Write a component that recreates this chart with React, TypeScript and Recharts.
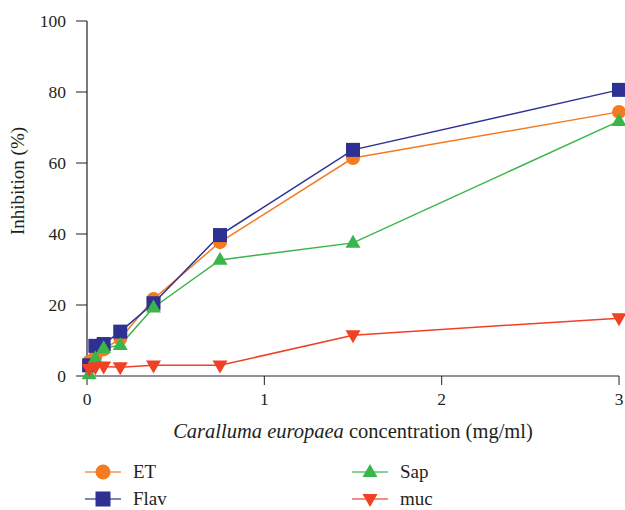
import React from 'react';
import { LineChart, Line, XAxis, YAxis, Legend, Label } from 'recharts';

const concentrations = [0.012, 0.047, 0.094, 0.1875, 0.375, 0.75, 1.5, 3];
const etValues = [4, 5.5, 7.5, 10.5, 21.7, 37.7, 61.4, 74.4];
const flavValues = [3, 8.5, 9, 12.5, 20.5, 39.7, 63.7, 80.6];
const sapValues = [0.5, 5, 7.8, 8.7, 19.3, 32.7, 37.5, 71.8];
const mucValues = [2, 2.5, 2.7, 2.5, 3, 3, 11.5, 16.3];
const xTicks = [0, 1, 2, 3];
const yTicks = [0, 20, 40, 60, 80, 100];

const data = concentrations.map((x, i) => ({
  x,
  ET: etValues[i],
  Flav: flavValues[i],
  Sap: sapValues[i],
  muc: mucValues[i],
}));

const COLORS = {
  ET: '#F47B20',
  Flav: '#2E3192',
  Sap: '#39B54A',
  muc: '#EF4123',
};

const FONT = 'Liberation Serif, Tinos, DejaVu Serif, serif';
const TEXT = '#231F20';

type ShapeKind = 'circle' | 'square' | 'up' | 'down';

const Marker = ({ kind, cx, cy, color, s }: { kind: ShapeKind; cx: number; cy: number; color: string; s: number }) => {
  if (kind === 'circle') return <circle cx={cx} cy={cy} r={s / 2} fill={color} />;
  if (kind === 'square') return <rect x={cx - s / 2} y={cy - s / 2} width={s} height={s} fill={color} />;
  const h = s * 0.87;
  if (kind === 'up')
    return <polygon points={`${cx},${cy - h * 0.62} ${cx - s / 2},${cy + h * 0.38} ${cx + s / 2},${cy + h * 0.38}`} fill={color} />;
  return <polygon points={`${cx},${cy + h * 0.62} ${cx - s / 2},${cy - h * 0.38} ${cx + s / 2},${cy - h * 0.38}`} fill={color} />;
};

const makeDot = (kind: ShapeKind, color: string, s: number) => (p: any) => {
  if (p.cx == null || p.cy == null) return <g key={p.key} />;
  return (
    <g key={p.key}>
      <Marker kind={kind} cx={p.cx} cy={p.cy} color={color} s={s} />
    </g>
  );
};

const legendItems: { name: keyof typeof COLORS; kind: ShapeKind; left: number; top: number }[] = [
  { name: 'ET', kind: 'circle', left: 85, top: 22 },
  { name: 'Flav', kind: 'square', left: 85, top: 49 },
  { name: 'Sap', kind: 'up', left: 352, top: 22 },
  { name: 'muc', kind: 'down', left: 352, top: 49 },
];

const renderLegend = () => (
  <div style={{ position: 'relative', width: 625, height: 60 }}>
    {legendItems.map((it) => (
      <div key={it.name} style={{ position: 'absolute', left: it.left, top: it.top - 11, height: 22, display: 'flex', alignItems: 'center' }}>
        <svg width={36} height={22} style={{ display: 'block' }}>
          <line x1={0} y1={11} x2={36} y2={11} stroke={COLORS[it.name]} strokeWidth={1.5} strokeOpacity={0.8} />
          <Marker kind={it.kind} cx={18} cy={11} color={COLORS[it.name]} s={15} />
        </svg>
        <span style={{ marginLeft: 12, fontFamily: FONT, fontSize: 19, color: TEXT, lineHeight: '22px' }}>{it.name}</span>
      </div>
    ))}
  </div>
);

const XLabel = (props: any) => {
  const vb = props.viewBox || {};
  const cx = vb.x + vb.width / 2;
  return (
    <text x={cx} y={438} textAnchor="middle" style={{ fontFamily: FONT }} fontSize={20.5} fill={TEXT}>
      <tspan fontStyle="italic">Caralluma europaea</tspan>
      <tspan> concentration (mg/ml)</tspan>
    </text>
  );
};

const YLabel = () => (
  <text x={24} y={181} transform="rotate(-90 24 181)" textAnchor="middle" style={{ fontFamily: FONT }} fontSize={19} fill={TEXT}>
    Inhibition (%)
  </text>
);

const tickStyle = { fontFamily: FONT, fontSize: 17.5, fill: TEXT, style: { fontFamily: FONT } };

export default function App() {
  return (
    <div style={{ position: 'absolute', left: 0, top: 0, width: 625, height: 510, background: '#fff', fontFamily: FONT }}>
      <LineChart width={625} height={510} data={data} margin={{ top: 21, right: 6, left: 0, bottom: 0 }} style={{ fontFamily: FONT }}>
        <XAxis
          dataKey="x"
          type="number"
          domain={[0, 3]}
          ticks={xTicks}
          height={74}
          tickSize={9}
          tickMargin={8}
          axisLine={{ stroke: '#6D6E71', strokeWidth: 1.5 }}
          tickLine={{ stroke: '#231F20', strokeWidth: 1 }}
          tick={tickStyle}
        >
          <Label content={<XLabel />} />
        </XAxis>
        <YAxis
          type="number"
          domain={[0, 100]}
          ticks={yTicks}
          width={87}
          tickSize={11}
          tickMargin={10}
          axisLine={{ stroke: '#231F20', strokeWidth: 1.2 }}
          tickLine={{ stroke: '#231F20', strokeWidth: 1 }}
          tick={tickStyle}
        >
          <Label content={<YLabel />} />
        </YAxis>
        <Legend
          verticalAlign="bottom"
          height={60}
          content={renderLegend}
          wrapperStyle={{ left: 0, width: 625, height: 60 }}
        />
        <Line dataKey="ET" stroke={COLORS.ET} strokeWidth={1.5} isAnimationActive={false} dot={makeDot('circle', COLORS.ET, 14)} activeDot={false} />
        <Line dataKey="Flav" stroke={COLORS.Flav} strokeWidth={1.5} isAnimationActive={false} dot={makeDot('square', COLORS.Flav, 14)} activeDot={false} />
        <Line dataKey="Sap" stroke={COLORS.Sap} strokeWidth={1.5} isAnimationActive={false} dot={makeDot('up', COLORS.Sap, 15)} activeDot={false} />
        <Line dataKey="muc" stroke={COLORS.muc} strokeWidth={1.5} isAnimationActive={false} dot={makeDot('down', COLORS.muc, 15)} activeDot={false} />
      </LineChart>
    </div>
  );
}
